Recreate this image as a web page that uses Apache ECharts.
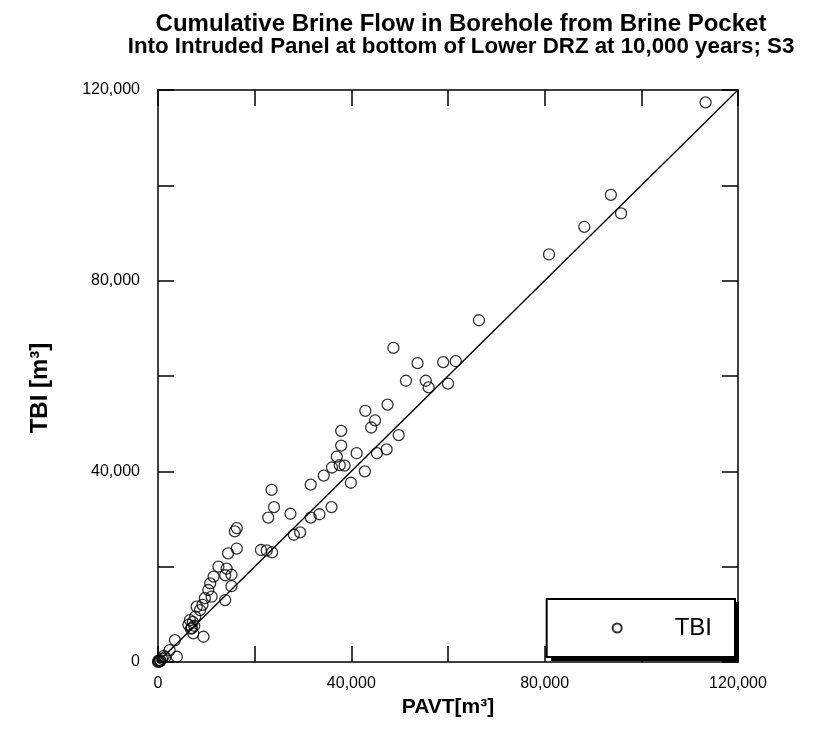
<!DOCTYPE html>
<html><head><meta charset="utf-8">
<script src="https://cdn.jsdelivr.net/npm/echarts@6/dist/echarts.min.js"></script>
<style>html,body{margin:0;padding:0;background:#fff}#c{width:827px;height:745px}</style>
</head><body><div id="c"></div>
<script>
const titleLines = ["Cumulative Brine Flow in Borehole from Brine Pocket", "Into Intruded Panel at bottom of Lower DRZ at 10,000 years; S3"];
const seriesName = "TBI";
const xName = "PAVT[m³]";
const yName = "TBI [m³]";
const axisMin = 0, axisMax = 120000, tickStep = 20000, labelStep = 40000;
const pavt = [113300,93700,95800,88200,80900,66400,48700,53700,59000,61600,51300,55400,56000,60000,47500,42900,44900,44100,49800,37900,37900,41100,45300,47300,37000,36000,37600,38600,34300,42800,39900,31600,23500,24000,27400,22800,31600,33400,35900,28100,29400,16300,15900,21300,22500,23600,16300,14500,12500,14200,13900,15200,11500,10800,15200,10400,11100,9700,13900,8000,8700,9200,7700,6600,7200,6300,7000,7500,7300,6800,9400,3500,3900,2400,1200,400,800,200,0,100,500,1500];
const tbi  = [117400,98000,94100,91300,85500,71700,65900,62700,62900,63100,59000,59000,57600,58400,54000,52700,50700,49200,47600,48500,45400,43800,43800,44600,43100,40800,41300,41200,39100,40000,37600,37200,36100,32500,31100,30300,30300,31000,32500,26700,27200,28100,27400,23500,23400,23000,23800,22800,20000,19600,18200,18300,17900,16500,15900,15100,13700,13400,13000,11600,10900,12000,9500,8800,8400,7800,7100,7600,6000,7000,5300,4600,1100,2500,1300,400,700,100,0,300,200,1000];
const refLine = [[0,0],[120000,120000]];

const font = "'Liberation Sans', Arial, Helvetica, sans-serif";
const pts = pavt.map((x,i)=>[x,tbi[i]]);
const fmt = v => (v % labelStep === 0) ? v.toLocaleString('en-US') : '';
const baseAxis = {
  type:'value', min:axisMin, max:axisMax, interval:tickStep,
  axisLine:{show:true, onZero:false, lineStyle:{color:'#000', width:1.5}},
  axisTick:{show:true, inside:true, length:16, lineStyle:{color:'#000', width:1.5}},
  splitLine:{show:false},
  axisLabel:{show:false}
};
const chart = echarts.init(document.getElementById('c'));
chart.setOption({
  animation:false,
  backgroundColor:'#fff',
  title:[
    {text: titleLines[0], left:456, top:7, textAlign:'center',
     textStyle:{fontFamily:font, fontWeight:'bold', fontSize:24, color:'#000'}},
    {text: titleLines[1], left:456, top:31, textAlign:'center',
     textStyle:{fontFamily:font, fontWeight:'bold', fontSize:22.3, color:'#000'}}
  ],
  grid:{left:158, right:89, top:90, bottom:83},
  graphic:[
    {type:'rect', z:50, shape:{x:551, y:602, width:188, height:59}, style:{fill:'#000'}}
  ],
  legend:{
    data:[seriesName], right:92, bottom:88, orient:'horizontal', z:60,
    padding:[17,23,17,65], itemWidth:9, itemHeight:9,
    backgroundColor:'#fff', borderColor:'#000', borderWidth:2,
    textStyle:{fontFamily:font, fontSize:24, color:'#000', padding:[0,0,0,48]}
  },
  xAxis:[
    Object.assign({}, baseAxis, {position:'bottom', name:xName, nameLocation:'middle', nameGap:33,
      nameTextStyle:{fontFamily:font, fontWeight:'bold', fontSize:21, color:'#000'},
      axisLabel:{show:true, formatter:fmt, margin:14, fontFamily:font, fontSize:16, color:'#000', showMinLabel:true, showMaxLabel:true}}),
    Object.assign({}, baseAxis, {position:'top'})
  ],
  yAxis:[
    Object.assign({}, baseAxis, {position:'left', name:yName, nameLocation:'middle', nameGap:106,
      nameTextStyle:{fontFamily:font, fontWeight:'bold', fontSize:24, color:'#000', padding:[0,24,0,0]},
      axisLabel:{show:true, formatter:fmt, margin:18, fontFamily:font, fontSize:16, color:'#000', showMinLabel:true, showMaxLabel:true}}),
    Object.assign({}, baseAxis, {position:'right'})
  ],
  series:[
    {type:'line', data:refLine, showSymbol:false, silent:true, xAxisIndex:0, yAxisIndex:0,
     lineStyle:{color:'#000', width:1.4}, z:1},
    {type:'scatter', name:seriesName, data:pts, symbol:'circle', symbolSize:11, xAxisIndex:0, yAxisIndex:0,
     itemStyle:{color:'rgba(255,255,255,0)', borderColor:'#000', borderWidth:1.3}, z:2}
  ]
});
</script></body></html>
